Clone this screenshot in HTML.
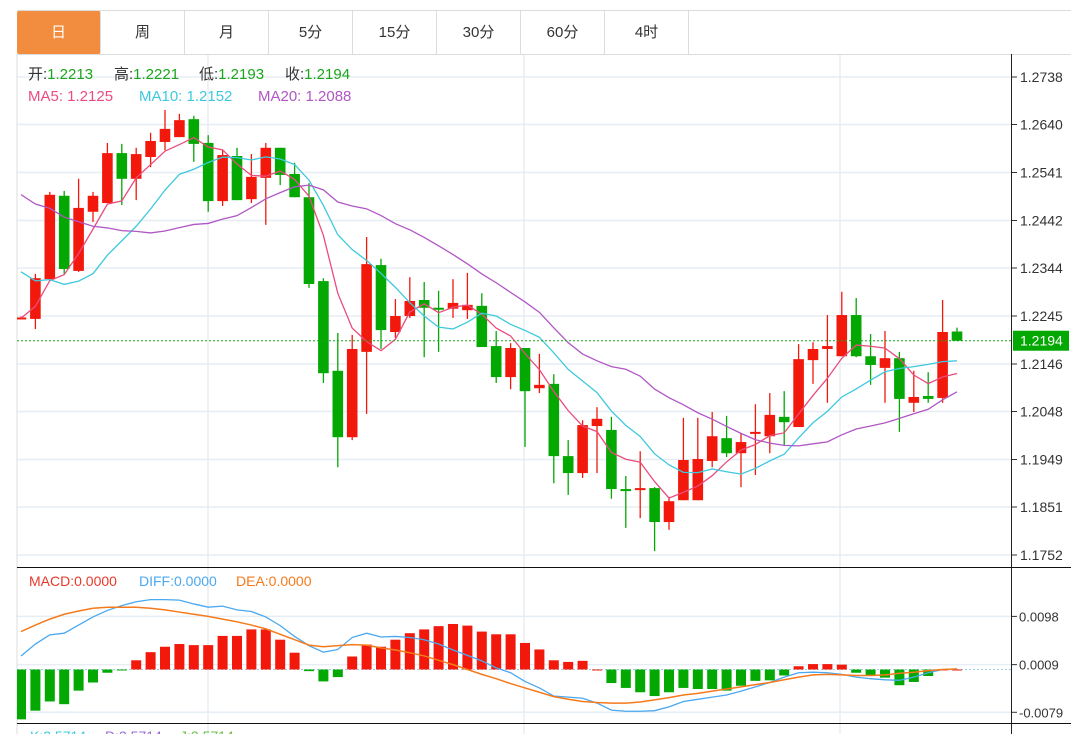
<!DOCTYPE html>
<html><head><meta charset="utf-8">
<style>
html,body{margin:0;padding:0;background:#fff;width:1071px;height:734px;overflow:hidden;font-family:"Liberation Sans","Noto Sans CJK SC",sans-serif}
#tabs{position:absolute;left:17px;top:10px;width:1054px;height:43px;border-top:1px solid #dcdcdc;border-bottom:1px solid #dcdcdc}
.tab{position:absolute;top:0;height:43px;width:83px;border-right:1px solid #dcdcdc;text-align:center;line-height:43px;font-size:15px;color:#333}
.tab.on{background:#f28c3e;color:#fff;border-radius:2px}
svg{position:absolute;left:0;top:0}
</style></head><body>
<div id="tabs">
<div class="tab on" style="left:0">日</div>
<div class="tab" style="left:84px">周</div>
<div class="tab" style="left:168px">月</div>
<div class="tab" style="left:252px">5分</div>
<div class="tab" style="left:336px">15分</div>
<div class="tab" style="left:420px">30分</div>
<div class="tab" style="left:504px">60分</div>
<div class="tab" style="left:588px">4时</div>
</div>
<svg id="chart" width="1071" height="734"></svg>
<script>
const openP=[1.2240,1.2239,1.2321,1.2493,1.2338,1.2460,1.2478,1.2581,1.2528,1.2573,1.2604,1.2614,1.2651,1.2602,1.2482,1.2575,1.2486,1.2530,1.2592,1.2538,1.2490,1.2317,1.2132,1.1995,1.2171,1.2350,1.2212,1.2245,1.2278,1.2262,1.2260,1.2257,1.2266,1.2183,1.2119,1.2179,1.2096,1.2105,1.1956,1.1921,1.2018,1.2010,1.1888,1.1886,1.1890,1.1820,1.1865,1.1865,1.1946,1.1993,1.1962,1.2002,1.1997,1.2037,1.2016,1.2154,1.2177,1.2162,1.2247,1.2162,1.2138,1.2158,1.2066,1.2080,1.2076,1.2213];
const highP=[1.2244,1.2332,1.2501,1.2503,1.2528,1.2501,1.2602,1.2600,1.2592,1.2623,1.2670,1.2662,1.2658,1.2618,1.2587,1.2592,1.2579,1.2602,1.2592,1.2561,1.2519,1.2323,1.2210,1.2206,1.2408,1.2363,1.2280,1.2325,1.2315,1.2297,1.2321,1.2334,1.2292,1.2214,1.2189,1.2179,1.2167,1.2125,1.1989,1.2030,1.2057,1.2037,1.1915,1.1966,1.1892,1.1872,1.2035,1.2035,1.2047,1.2039,1.2004,1.2063,1.2086,1.2090,1.2187,1.2191,1.2247,1.2295,1.2282,1.2208,1.2214,1.2171,1.2132,1.2129,1.2278,1.2221];
const lowP=[1.2238,1.2218,1.2317,1.2332,1.2336,1.2439,1.2478,1.2474,1.2484,1.2552,1.2587,1.2614,1.2563,1.2460,1.2472,1.2484,1.2478,1.2433,1.2515,1.2490,1.2303,1.2107,1.1933,1.1989,1.2043,1.2177,1.2200,1.2241,1.2160,1.2171,1.2241,1.2239,1.2181,1.2107,1.2094,1.1975,1.2086,1.1900,1.1876,1.1911,1.1921,1.1868,1.1808,1.1828,1.1760,1.1804,1.1865,1.1865,1.1933,1.1954,1.1892,1.1917,1.1962,1.1979,1.2016,1.2105,1.2066,1.2162,1.2160,1.2103,1.2066,1.2006,1.2047,1.2066,1.2066,1.2193];
const closeP=[1.2242,1.2323,1.2495,1.2342,1.2468,1.2493,1.2581,1.2528,1.2579,1.2606,1.2631,1.2649,1.2600,1.2482,1.2577,1.2484,1.2532,1.2592,1.2536,1.2490,1.2311,1.2127,1.1995,1.2177,1.2352,1.2216,1.2245,1.2276,1.2262,1.2260,1.2272,1.2268,1.2181,1.2119,1.2179,1.2090,1.2103,1.1956,1.1921,1.2020,1.2033,1.1888,1.1886,1.1890,1.1820,1.1863,1.1948,1.1950,1.1997,1.1962,1.1985,1.2006,1.2041,1.2026,1.2156,1.2177,1.2183,1.2247,1.2162,1.2144,1.2158,1.2074,1.2078,1.2074,1.2212,1.2194];
const priorCloses=[1.2710,1.2675,1.2700,1.2660,1.2680,1.2650,1.2640,1.2610,1.2670,1.2550,1.2510,1.2470,1.2440,1.2400,1.2340,1.2200,1.2230,1.2280,1.2250];
const priceTicks=[1.2738,1.2640,1.2541,1.2442,1.2344,1.2245,1.2146,1.2048,1.1949,1.1851,1.1752];
const macdHist=[-0.0092,-0.0076,-0.0059,-0.0064,-0.0039,-0.0024,-0.0006,-0.0001,0.0017,0.0032,0.0042,0.0047,0.0045,0.0045,0.0062,0.0062,0.0074,0.0074,0.0055,0.0031,-0.0003,-0.0022,-0.0014,0.0024,0.0046,0.0042,0.0055,0.0067,0.0074,0.0080,0.0084,0.0081,0.0070,0.0065,0.0065,0.0049,0.0037,0.0017,0.0014,0.0016,0.0000,-0.0025,-0.0034,-0.0042,-0.0049,-0.0042,-0.0034,-0.0036,-0.0036,-0.0039,-0.0030,-0.0021,-0.0020,-0.0011,0.0006,0.0010,0.0010,0.0009,-0.0006,-0.0011,-0.0015,-0.0029,-0.0023,-0.0012,0.0000,0.0000];
const diffVals=[0.0025,0.0047,0.0064,0.0067,0.0082,0.0097,0.0109,0.0118,0.0125,0.0129,0.0129,0.0128,0.0121,0.0115,0.0117,0.0110,0.0107,0.0097,0.0081,0.0061,0.0044,0.0032,0.0037,0.0059,0.0067,0.0060,0.0061,0.0059,0.0055,0.0047,0.0036,0.0026,0.0016,0.0003,-0.0006,-0.0022,-0.0034,-0.0049,-0.0051,-0.0053,-0.0062,-0.0075,-0.0077,-0.0077,-0.0076,-0.0069,-0.0059,-0.0055,-0.0051,-0.0047,-0.0040,-0.0032,-0.0024,-0.0014,-0.0006,-0.0005,-0.0006,-0.0009,-0.0014,-0.0017,-0.0019,-0.0020,-0.0014,-0.0006,0.0000,0.0001];
const deaVals=[0.0070,0.0082,0.0093,0.0102,0.0108,0.0113,0.0115,0.0115,0.0115,0.0113,0.0110,0.0106,0.0102,0.0098,0.0093,0.0088,0.0082,0.0075,0.0065,0.0055,0.0045,0.0042,0.0044,0.0046,0.0045,0.0040,0.0036,0.0031,0.0025,0.0017,0.0009,0.0000,-0.0009,-0.0017,-0.0026,-0.0034,-0.0042,-0.0050,-0.0055,-0.0059,-0.0061,-0.0062,-0.0062,-0.0060,-0.0056,-0.0052,-0.0047,-0.0044,-0.0040,-0.0036,-0.0032,-0.0028,-0.0024,-0.0019,-0.0014,-0.0010,-0.0009,-0.0010,-0.0011,-0.0011,-0.0010,-0.0007,-0.0005,-0.0002,0.0000,0.0001];
const macdTicks=[0.0098,0.0009,-0.0079];

const NS='http://www.w3.org/2000/svg';
const svg=document.getElementById('chart');
const RED='#f2190c',GREEN='#03a803';
const xOf=i=>21+i*14.4;
const yP=p=>77+(1.2738-p)*4848;
const yM=v=>669.5-v*5418;
function mk(tag,attrs,parent){const e=document.createElementNS(NS,tag);for(const k in attrs)e.setAttribute(k,attrs[k]);(parent||svg).appendChild(e);return e;}

const defs=mk('defs',{});
const cp=mk('clipPath',{id:'mainClip'},defs);mk('rect',{x:17,y:55,width:994,height:512},cp);
const cp2=mk('clipPath',{id:'macdClip'},defs);mk('rect',{x:17,y:568,width:994,height:155},cp2);

let e;
priceTicks.forEach(t=>{const y=yP(t);
 e=mk('line',{x1:17,x2:1011,y1:y,y2:y,stroke:'#e6eef4','stroke-width':1.5});
 
 
 e=mk('line',{x1:1012,x2:1017,y1:y,y2:y,stroke:'#333'});
 
 
 e=mk('text',{x:1020,y:y+5,'font-size':14,fill:'#333'});e.textContent=t.toFixed(4);
 
 
});
macdTicks.forEach(t=>{const y=yM(t);
 e=mk('line',{x1:17,x2:1011,y1:y,y2:y,stroke:'#e6eef4','stroke-width':1.5});
 
 
 e=mk('line',{x1:1012,x2:1017,y1:y,y2:y,stroke:'#333'});
 
 
 e=mk('text',{x:1019,y:y+5,'font-size':13,fill:'#333'});e.textContent=t.toFixed(4);
 
 
});
[208,524,840].forEach(x=>{e=mk('line',{x1:x,x2:x,y1:55,y2:734,stroke:'#e6eef4','stroke-width':1.5});
 
 });
e=mk('line',{x1:17,x2:17,y1:54,y2:734,stroke:'#dcdcdc'});


e=mk('line',{x1:1011.5,x2:1011.5,y1:54,y2:734,stroke:'#222'});


e=mk('line',{x1:17,x2:1071,y1:567.5,y2:567.5,stroke:'#111'});


e=mk('line',{x1:17,x2:1071,y1:723.5,y2:723.5,stroke:'#111'});



const gMain=mk('g',{'clip-path':'url(#mainClip)'});
for(let i=0;i<openP.length;i++){
 const up=closeP[i]>=openP[i];const c=up?RED:GREEN;const x=xOf(i);
 e=mk('line',{x1:x,x2:x,y1:yP(highP[i]),y2:yP(lowP[i]),stroke:c,'stroke-width':1.3},gMain);
 
 
 const yt=yP(Math.max(openP[i],closeP[i])),yb=yP(Math.min(openP[i],closeP[i]));
 e=mk('rect',{x:x-5.3,y:yt,width:10.6,height:Math.max(2,yb-yt),fill:c},gMain);
 
 
}
const allC=priorCloses.concat(closeP);
function ma(n){const out=[];for(let i=0;i<closeP.length;i++){const j=i+priorCloses.length;let s=0;for(let k=j-n+1;k<=j;k++)s+=allC[k];out.push(s/n);}return out;}
[[5,'#ea4c7e','ma5-line'],[10,'#3ec9de','ma10-line'],[20,'#b057c4','ma20-line']].forEach(([n,col,name])=>{
 const v=ma(n);
 e=mk('polyline',{points:v.map((p,i)=>xOf(i)+','+yP(p)).join(' '),fill:'none',stroke:col,'stroke-width':1.3},gMain);
 
 
});
const last=closeP[closeP.length-1];
e=mk('line',{x1:17,x2:1011,y1:yP(last),y2:yP(last),stroke:'#1aa51a','stroke-dasharray':'2,2'});


e=mk('rect',{x:1013,y:yP(last)-10,width:56,height:20,fill:'#03a803'});


e=mk('text',{x:1020,y:yP(last)+5,'font-size':14,fill:'#fff'});e.textContent=last.toFixed(4);



const gM=mk('g',{'clip-path':'url(#macdClip)'});
e=mk('line',{x1:17,x2:1011,y1:yM(0),y2:yM(0),stroke:'#9fd0ea','stroke-dasharray':'2,2'},gM);


macdHist.forEach((v,i)=>{const x=xOf(i);const y0=yM(0),y1=yM(v);
 e=mk('rect',{x:x-5,y:Math.min(y0,y1),width:10,height:Math.max(1,Math.abs(y1-y0)),fill:v>=0?RED:GREEN},gM);
 
 
});
e=mk('polyline',{points:diffVals.map((v,i)=>xOf(i)+','+yM(v)).join(' '),fill:'none',stroke:'#4aa8f0','stroke-width':1.3},gM);


e=mk('polyline',{points:deaVals.map((v,i)=>xOf(i)+','+yM(v)).join(' '),fill:'none',stroke:'#f57a1c','stroke-width':1.5},gM);


</script>
<svg width="1071" height="734" style="pointer-events:none">
<g font-size="15">
<text x="28" y="79" fill="#333">开:<tspan fill="#1aa51a">1.2213</tspan></text>
<text x="114" y="79" fill="#333">高:<tspan fill="#1aa51a">1.2221</tspan></text>
<text x="199" y="79" fill="#333">低:<tspan fill="#1aa51a">1.2193</tspan></text>
<text x="285" y="79" fill="#333">收:<tspan fill="#1aa51a">1.2194</tspan></text>
</g>
<g font-size="15">
<text x="28" y="101" fill="#ea4c7e">MA5: 1.2125</text>
<text x="139" y="101" fill="#3ec9de">MA10: 1.2152</text>
<text x="258" y="101" fill="#b057c4">MA20: 1.2088</text>
</g>
<g font-size="14">
<text x="29" y="586" fill="#e8392a">MACD:0.0000</text>
<text x="139" y="586" fill="#4aa8f0">DIFF:0.0000</text>
<text x="236" y="586" fill="#f57a1c">DEA:0.0000</text>
</g>
<g font-size="14">
<text x="30" y="741" fill="#3ec9de">K:3.5714</text>
<text x="105" y="741" fill="#9b6bd6">D:3.5714</text>
<text x="180" y="741" fill="#6bbf4a">J:3.5714</text>
</g>
</svg>
</body></html>
